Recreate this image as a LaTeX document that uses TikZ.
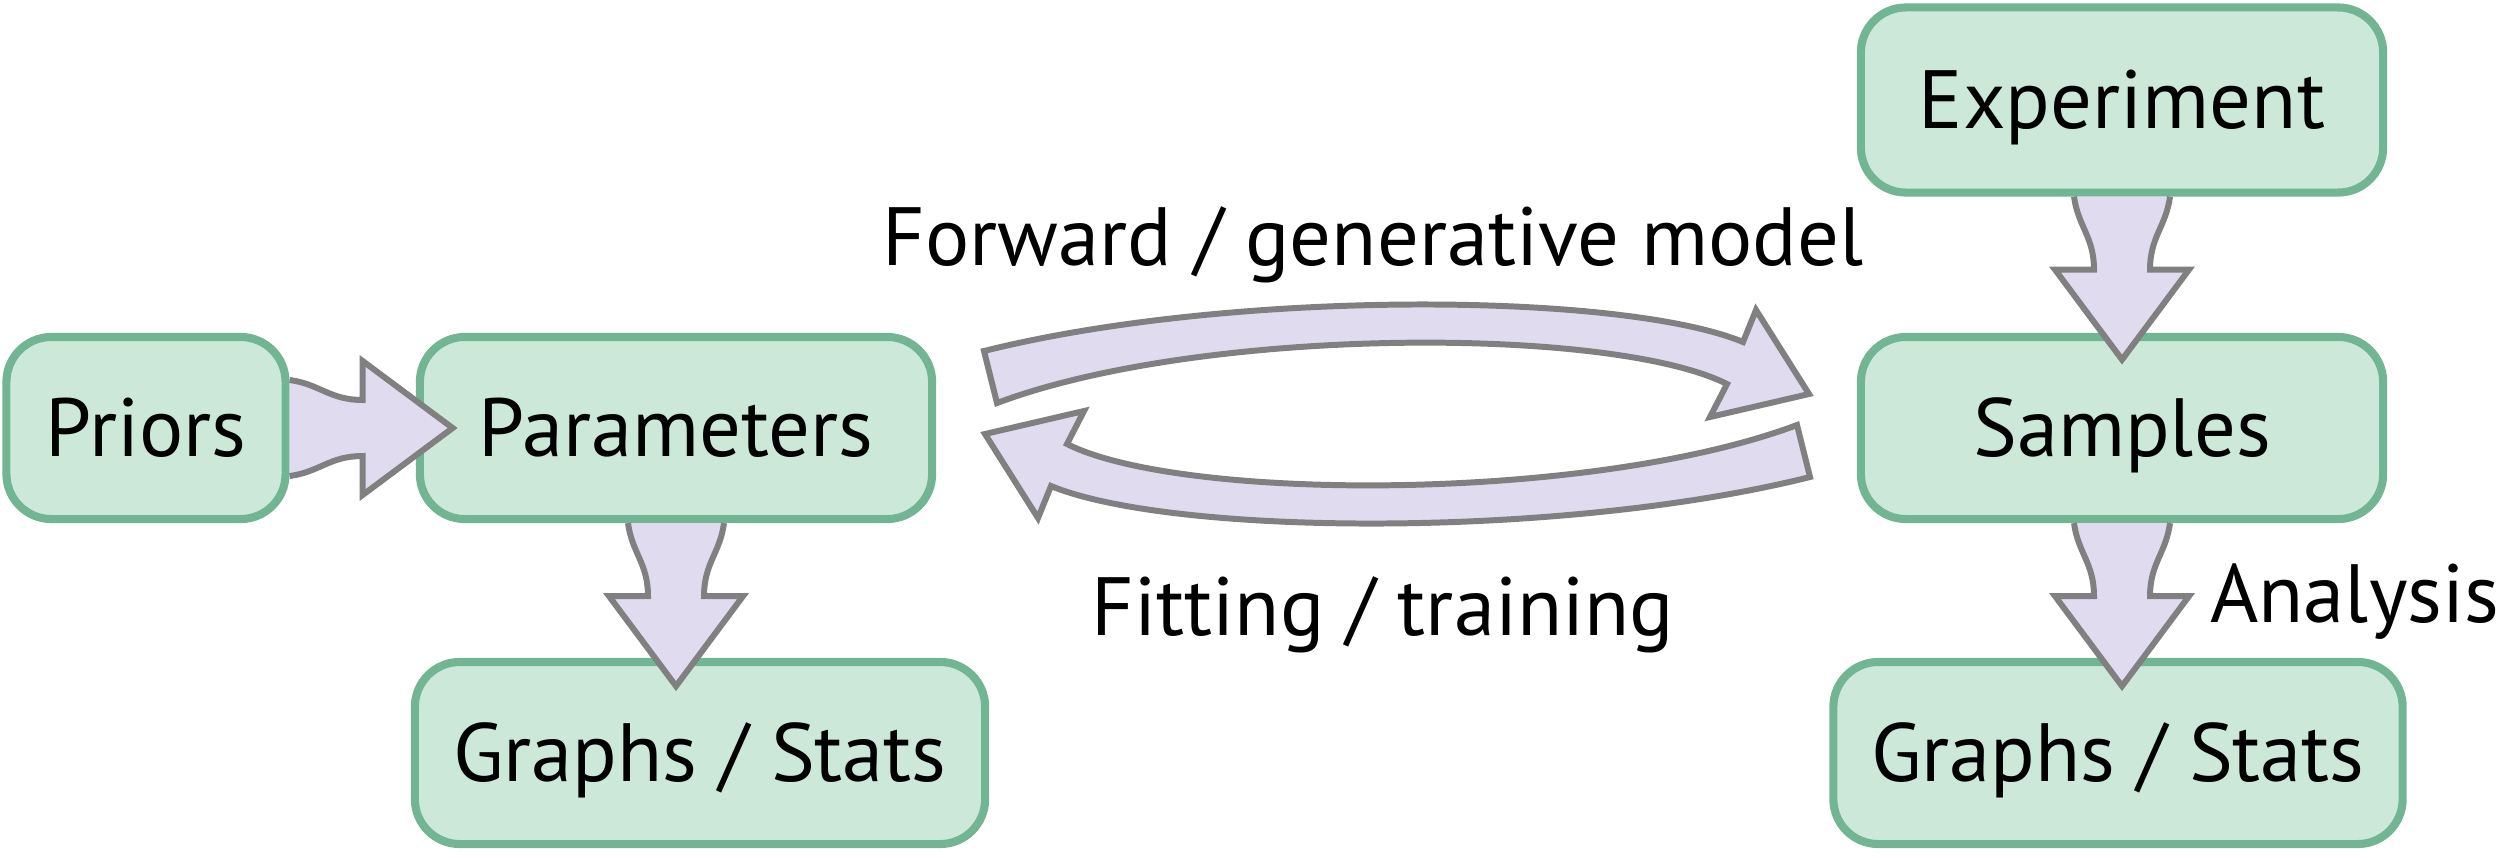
\documentclass[tikz,border=0pt]{standalone}
\usepackage{fontspec}
\setmainfont{PT Sans}
\definecolor{boxline}{RGB}{114,181,146}
\definecolor{boxfill}{RGB}{203,232,216}
\definecolor{arrowgray}{RGB}{128,128,128}
\definecolor{arrowfill}{RGB}{225,219,240}
\begin{document}
\begin{tikzpicture}[
        x=0.01cm, y=-0.01cm,
        box/.style={draw=boxline, fill=boxfill, line width=2.3pt, rounded corners=0.45cm,
            inner sep=0pt, minimum height=1.82cm, text height=16pt, text depth=0pt,
            font=\fontsize{23.5}{28}\selectfont},
        lbl/.style={inner sep=0pt, anchor=base, font=\fontsize{23.5}{28}\selectfont},
        arrowline/.style={draw=arrowgray, fill=arrowfill, line width=1.7pt, line join=miter},
        fatarrow/.pic={
            \filldraw[arrowline] (0,48) .. controls (30,44) and (40,28) .. (73,28) -- (73,67)
                -- (163,0) -- (73,-67) -- (73,-28) .. controls (40,-28) and (30,-44) .. (0,-48);
        },
        looparrow/.pic={
            \filldraw[arrowline] (-400,-11) -- (-413,-63) .. controls (-165,-125) and (225,-122) .. (346,-72)
                -- (359,-104) -- (412,-20) -- (313,3) -- (330,-30)
                .. controls (215,-88) and (-195,-88) .. (-400,-11) -- cycle;
        }
    ]
    \useasboundingbox (0,0) rectangle (2500,857);

    \node[box, minimum width=2.79cm] (priors) at (146,428) {Priors};
    \node[box, minimum width=5.12cm] (params) at (676,428) {Parameters};
    \node[box, minimum width=5.70cm] (graphsL) at (700,753) {Graphs / Stats};
    \node[box, minimum width=5.22cm, minimum height=1.85cm] (exper) at (2122,100) {Experiment};
    \node[box, minimum width=5.22cm] (samples) at (2122,428) {Samples};
    \node[box, minimum width=5.69cm] (graphsR) at (2118,753) {Graphs / Stats};

    \pic at (priors.east) {fatarrow};
    \pic[rotate=-90] at (params.south) {fatarrow};
    \pic[rotate=-90] at (exper.south) {fatarrow};
    \pic[rotate=-90] at (samples.south) {fatarrow};

    \coordinate (loop) at (1397,414);
    \pic at (loop) {looparrow};
    \pic[rotate=180] at (loop) {looparrow};

    \node[lbl] (fwd) at (1373,265) {Forward / generative model};
    \node[lbl] (fit) at (1383,635) {Fitting / training};
    \node[lbl, anchor=base east] (ana) at (2500,622) {Analysis};
\end{tikzpicture}
\end{document}
